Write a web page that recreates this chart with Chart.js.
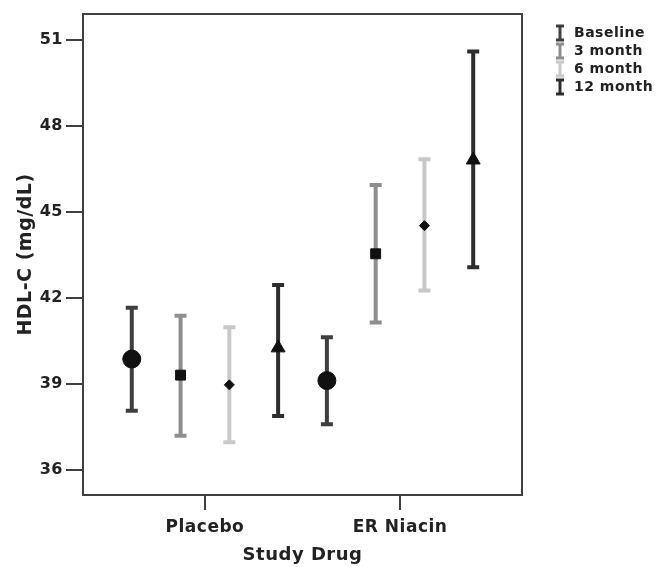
<!DOCTYPE html>
<html>
<head>
<meta charset="utf-8">
<script src="https://cdn.jsdelivr.net/npm/chart.js@4"></script>
<style>
  html, body { margin: 0; padding: 0; background: #fff; }
  #wrap { width: 655px; height: 567px; }
</style>
</head>
<body>
<div id="wrap"><canvas id="hdl"></canvas></div>
<script>
// groups on the x axis and the four time points
const groups = ["Placebo", "ER Niacin"];
const seriesNames = ["Baseline", "3 month", "6 month", "12 month"];
const yTicks = [36, 39, 42, 45, 48, 51];

// mean and 95% CI per series, one value per group
const meanValues = [
  [39.87, 39.12],
  [39.31, 43.54],
  [38.97, 44.52],
  [40.26, 46.81],
];
const lowerValues = [
  [38.07, 37.60],
  [37.20, 41.14],
  [36.97, 42.26],
  [37.88, 43.07],
];
const upperValues = [
  [41.66, 40.63],
  [41.38, 45.94],
  [40.98, 46.84],
  [42.45, 50.59],
];

const seriesColors = ["#3f3f3f", "#8e8e8e", "#c8c8c8", "#2e2e2e"];
const markerStyles = ["circle", "rect", "rectRot", "triangle"];
const markerSizes = [9, 7, 5, 8];

const fontFamily = "'DejaVu Sans', 'Liberation Sans', sans-serif";
const boldFont = (size) => ({ family: fontFamily, size: size, weight: "bold" });

const datasets = seriesNames.map((name, s) => ({
  label: name,
  data: groups.map((g, gi) => ({
    x: gi * 4 + s,
    y: meanValues[s][gi],
    lo: lowerValues[s][gi],
    hi: upperValues[s][gi],
  })),
  errColor: seriesColors[s],
  pointStyle: markerStyles[s],
  pointRadius: markerSizes[s],
  pointHoverRadius: markerSizes[s],
  backgroundColor: "#111",
  borderColor: "#111",
  borderWidth: 1,
  showLine: false,
}));

// the reference text is spaced out a little
const spacing = {
  id: "spacing",
  beforeLayout(chart) { chart.ctx.letterSpacing = "0.5px"; },
  beforeDraw(chart) { chart.ctx.letterSpacing = "0.5px"; },
};

const errorBars = {
  id: "errorBars",
  beforeDatasetsDraw(chart) {
    const ctx = chart.ctx;
    const y = chart.scales.y;
    chart.data.datasets.forEach((ds, i) => {
      const meta = chart.getDatasetMeta(i);
      meta.data.forEach((pt, j) => {
        const d = ds.data[j];
        const top = y.getPixelForValue(d.hi);
        const bot = y.getPixelForValue(d.lo);
        ctx.save();
        ctx.strokeStyle = ds.errColor;
        ctx.lineWidth = 4;
        ctx.beginPath();
        ctx.moveTo(pt.x, top);
        ctx.lineTo(pt.x, bot);
        ctx.moveTo(pt.x - 6, top);
        ctx.lineTo(pt.x + 6, top);
        ctx.moveTo(pt.x - 6, bot);
        ctx.lineTo(pt.x + 6, bot);
        ctx.stroke();
        ctx.restore();
      });
    });
  },
};

const frameAndLegend = {
  id: "frameAndLegend",
  afterDraw(chart) {
    const ctx = chart.ctx;
    const a = chart.chartArea;
    ctx.save();
    ctx.strokeStyle = "#404040";
    ctx.lineWidth = 2;
    ctx.strokeRect(a.left, a.top, a.right - a.left, a.bottom - a.top);

    // legend with small error bar icons
    const x0 = a.right + 38;
    ctx.font = "bold 14px " + fontFamily;
    ctx.textBaseline = "middle";
    seriesNames.forEach((name, s) => {
      const cy = a.top + 19 + s * 18;
      ctx.strokeStyle = seriesColors[s];
      ctx.lineWidth = 3;
      ctx.beginPath();
      ctx.moveTo(x0, cy - 7);
      ctx.lineTo(x0, cy + 7);
      ctx.moveTo(x0 - 4, cy - 7);
      ctx.lineTo(x0 + 4, cy - 7);
      ctx.moveTo(x0 - 4, cy + 7);
      ctx.lineTo(x0 + 4, cy + 7);
      ctx.stroke();
      ctx.fillStyle = "#222";
      ctx.fillText(name, x0 + 14, cy);
    });
    ctx.restore();
  },
};

new Chart("hdl", {
  type: "scatter",
  data: { datasets: datasets },
  options: {
    responsive: true,
    maintainAspectRatio: false,
    animation: false,
    layout: { padding: { top: 14, right: 133, left: 0, bottom: 0 } },
    plugins: {
      legend: { display: false },
      tooltip: { enabled: false },
    },
    scales: {
      x: {
        type: "linear",
        min: -1,
        max: 8,
        afterFit: (scale) => { scale.height = 72; },
        afterBuildTicks: (scale) => {
          scale.ticks = groups.map((g, gi) => ({ value: gi * 4 + 1.5 }));
        },
        ticks: {
          callback: (v) => groups[Math.round((v - 1.5) / 4)],
          font: boldFont(17),
          color: "#222",
          padding: 7,
          autoSkip: false,
          maxRotation: 0,
        },
        grid: { drawOnChartArea: false, drawTicks: true, tickLength: 15, color: "#404040", lineWidth: 2 },
        border: { display: true, color: "#404040", width: 2 },
        title: { display: true, text: "Study Drug", font: boldFont(18), color: "#222", padding: { top: 0, bottom: 1 } },
      },
      y: {
        min: 35.13,
        max: 51.9,
        afterFit: (scale) => { scale.width = 83; },
        afterBuildTicks: (scale) => {
          scale.ticks = yTicks.map((v) => ({ value: v }));
        },
        ticks: { font: boldFont(16), color: "#222", padding: 3 },
        grid: { drawOnChartArea: false, drawTicks: true, tickLength: 17, color: "#404040", lineWidth: 2 },
        border: { display: true, color: "#404040", width: 2 },
        title: { display: true, text: "HDL-C (mg/dL)", font: boldFont(19), color: "#222", padding: { top: 15, bottom: 0 } },
      },
    },
  },
  plugins: [spacing, errorBars, frameAndLegend],
});
</script>
</body>
</html>
